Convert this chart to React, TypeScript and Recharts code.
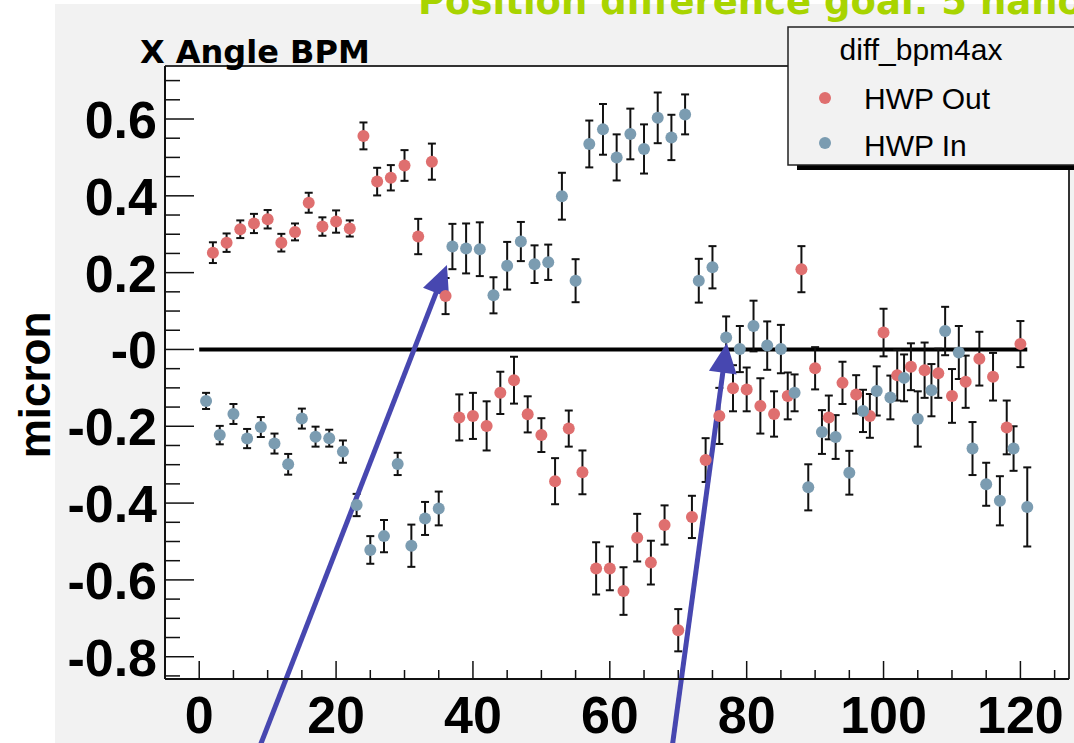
import React from 'react';
import { ScatterChart, Scatter, XAxis, YAxis, ErrorBar, ReferenceLine, CartesianGrid } from 'recharts';

// ---- data: HWP Out (red) ----
const outX = [2, 4, 6, 8, 10, 12, 14, 16, 18, 20, 22, 24, 26, 28, 30, 32, 34, 36, 38, 40, 42, 44, 46, 48, 50, 52, 54, 56, 58, 60, 62, 64, 66, 68, 70, 72, 74, 76, 78, 80, 82, 84, 86, 88, 90, 92, 94, 96, 98, 100, 102, 104, 106, 108, 110, 112, 114, 116, 118, 120];
const outY = [0.252, 0.278, 0.313, 0.328, 0.339, 0.278, 0.306, 0.382, 0.320, 0.333, 0.315, 0.556, 0.437, 0.447, 0.479, 0.294, 0.489, 0.139, -0.177, -0.173, -0.199, -0.113, -0.080, -0.169, -0.223, -0.343, -0.206, -0.320, -0.570, -0.570, -0.629, -0.490, -0.555, -0.457, -0.731, -0.436, -0.288, -0.173, -0.101, -0.104, -0.147, -0.168, -0.121, 0.209, -0.049, -0.177, -0.087, -0.117, -0.173, 0.044, -0.067, -0.045, -0.054, -0.062, -0.121, -0.084, -0.024, -0.071, -0.203, 0.014];
const outErr = [0.027, 0.024, 0.023, 0.025, 0.024, 0.023, 0.022, 0.026, 0.024, 0.029, 0.021, 0.035, 0.036, 0.033, 0.040, 0.046, 0.047, 0.047, 0.060, 0.060, 0.064, 0.055, 0.061, 0.047, 0.044, 0.060, 0.047, 0.057, 0.068, 0.057, 0.062, 0.062, 0.057, 0.051, 0.055, 0.055, 0.057, 0.073, 0.060, 0.057, 0.072, 0.059, 0.061, 0.060, 0.055, 0.057, 0.055, 0.050, 0.057, 0.062, 0.066, 0.061, 0.072, 0.064, 0.070, 0.068, 0.070, 0.062, 0.070, 0.060];

// ---- data: HWP In (blue) ----
const inX = [1, 3, 5, 7, 9, 11, 13, 15, 17, 19, 21, 23, 25, 27, 29, 31, 33, 35, 37, 39, 41, 43, 45, 47, 49, 51, 53, 55, 57, 59, 61, 63, 65, 67, 69, 71, 73, 75, 77, 79, 81, 83, 85, 87, 89, 91, 93, 95, 97, 99, 101, 103, 105, 107, 109, 111, 113, 115, 117, 119, 121];
const inY = [-0.134, -0.223, -0.168, -0.232, -0.202, -0.245, -0.299, -0.180, -0.227, -0.231, -0.266, -0.405, -0.522, -0.486, -0.298, -0.511, -0.440, -0.414, 0.268, 0.263, 0.261, 0.141, 0.218, 0.281, 0.222, 0.227, 0.399, 0.179, 0.535, 0.573, 0.500, 0.561, 0.522, 0.603, 0.552, 0.612, 0.179, 0.214, 0.031, 0.001, 0.061, 0.010, 0.001, -0.113, -0.359, -0.215, -0.228, -0.321, -0.160, -0.108, -0.125, -0.074, -0.181, -0.106, 0.048, -0.008, -0.258, -0.351, -0.394, -0.258, -0.410];
const inErr = [0.021, 0.024, 0.026, 0.025, 0.026, 0.026, 0.027, 0.026, 0.026, 0.022, 0.029, 0.029, 0.036, 0.042, 0.029, 0.055, 0.043, 0.044, 0.059, 0.065, 0.070, 0.047, 0.062, 0.051, 0.049, 0.046, 0.061, 0.056, 0.061, 0.066, 0.060, 0.066, 0.064, 0.066, 0.059, 0.052, 0.057, 0.055, 0.055, 0.060, 0.066, 0.063, 0.063, 0.048, 0.060, 0.057, 0.057, 0.057, 0.055, 0.064, 0.057, 0.061, 0.072, 0.068, 0.063, 0.069, 0.069, 0.056, 0.064, 0.058, 0.103];

// ---- axes ----
const xDomain = [-5, 127.1];
const yDomain = [-0.858, 0.738];
const xTicks = [-5, 0, 5, 10, 15, 20, 25, 30, 35, 40, 45, 50, 55, 60, 65, 70, 75, 80, 85, 90, 95, 100, 105, 110, 115, 120, 125];
const xMajor = [0, 20, 40, 60, 80, 100, 120];
const xTickLabels = ['0', '20', '40', '60', '80', '100', '120'];
const yTicks = [-0.85, -0.8, -0.75, -0.7, -0.65, -0.6, -0.55, -0.5, -0.45, -0.4, -0.35, -0.3, -0.25, -0.2, -0.15, -0.1, -0.05, 0, 0.05, 0.1, 0.15, 0.2, 0.25, 0.3, 0.35, 0.4, 0.45, 0.5, 0.55, 0.6, 0.65, 0.7];
const yMajor = [-0.8, -0.6, -0.4, -0.2, 0, 0.2, 0.4, 0.6];
const yTickLabels = ['-0.8', '-0.6', '-0.4', '-0.2', '-0', '0.2', '0.4', '0.6'];

// ---- annotations (data coordinates) ----
const arrows = [
  { tail: { x: 8.5, y: -1.05 }, tip: { x: 36.2, y: 0.22 } },
  { tail: { x: 69.0, y: -1.05 }, tip: { x: 77.1, y: 0.017 } },
];

const RED = '#df6f6f';
const BLUE = '#7b9cb1';
const ARROW = '#4747b0';
const LABEL_FONT = '"Liberation Sans", Arial, Helvetica, sans-serif';

const outData = outX.map((x, i) => ({ x, y: outY[i], err: outErr[i] }));
const inData = inX.map((x, i) => ({ x, y: inY[i], err: inErr[i] }));
const lineEnd = Math.max(...inX, ...outX);

const findIdx = (arr: number[], v: number) => arr.findIndex((m) => Math.abs(m - v) < 1e-6);

const XTick = (props: any) => {
  const { x, y, payload } = props;
  const idx = findIdx(xMajor, payload.value);
  const major = idx >= 0;
  return (
    <g>
      <line x1={x} x2={x} y1={y} y2={y - (major ? 18 : 9)} stroke="#111" strokeWidth={1.5} />
      {major && (
        <text x={x} y={y + 54} textAnchor="middle" fontFamily={LABEL_FONT} fontWeight="bold" fontSize={52} fill="#000">
          {xTickLabels[idx]}
        </text>
      )}
    </g>
  );
};

const YTick = (props: any) => {
  const { x, y, payload } = props;
  const idx = findIdx(yMajor, payload.value);
  const major = idx >= 0;
  return (
    <g>
      <line x1={x} x2={x + (major ? 29 : 15)} y1={y} y2={y} stroke="#111" strokeWidth={1.5} />
      {major && (
        <text x={x - 8} y={y + 19} textAnchor="end" fontFamily={LABEL_FONT} fontWeight="bold" fontSize={52} fill="#000">
          {yTickLabels[idx]}
        </text>
      )}
    </g>
  );
};

const dot = (color: string) => (props: any) => (
  <circle cx={props.cx} cy={props.cy} r={6} fill={color} />
);

const Arrow = (p: any) => {
  const { x1, y1, x2, y2 } = p;
  const dx = x2 - x1;
  const dy = y2 - y1;
  const L = Math.hypot(dx, dy) || 1;
  const ux = dx / L;
  const uy = dy / L;
  const hl = 30;
  const hw = 14;
  const bx = x2 - ux * hl;
  const by = y2 - uy * hl;
  const px = -uy;
  const py = ux;
  return (
    <g>
      <line x1={x1} y1={y1} x2={bx + ux * 4} y2={by + uy * 4} stroke={ARROW} strokeWidth={5} />
      <polygon
        points={`${x2},${y2} ${bx + px * hw},${by + py * hw} ${bx - px * hw},${by - py * hw}`}
        fill={ARROW}
      />
    </g>
  );
};

export default function App() {
  return (
    <div style={{ position: 'absolute', left: 0, top: 0, width: 1074, height: 743, background: '#fff', overflow: 'hidden' }}>
      <div style={{ position: 'absolute', left: 55, top: 4, width: 1019, height: 739, background: '#f2f2f2' }} />
      <div style={{ position: 'absolute', left: 0, top: 0 }}>
        <ScatterChart width={1074} height={743} margin={{ top: 66, right: 5, bottom: 0, left: 0 }}>
          <CartesianGrid fill="#ffffff" horizontal={false} vertical={false} />
          <XAxis
            type="number"
            dataKey="x"
            domain={xDomain}
            allowDataOverflow
            ticks={xTicks}
            interval={0}
            height={64}
            tickSize={0}
            tickMargin={0}
            tickLine={false}
            axisLine={{ stroke: '#111', strokeWidth: 2 }}
            tick={<XTick />}
          />
          <YAxis
            type="number"
            dataKey="y"
            domain={yDomain}
            allowDataOverflow
            ticks={yTicks}
            interval={0}
            width={165}
            tickSize={0}
            tickMargin={0}
            tickLine={false}
            axisLine={{ stroke: '#111', strokeWidth: 2 }}
            tick={<YTick />}
          />
          <ReferenceLine y={yDomain[1]} stroke="#333" strokeWidth={2} />
          <ReferenceLine x={xDomain[1]} stroke="#333" strokeWidth={2} />
          <ReferenceLine
            segment={[{ x: 0, y: 0 }, { x: lineEnd, y: 0 }]}
            stroke="#000"
            strokeWidth={4}
          />
          <Scatter data={outData} shape={dot(RED)} isAnimationActive={false}>
            <ErrorBar dataKey="err" direction="y" width={4} stroke="#111" strokeWidth={2} isAnimationActive={false} />
          </Scatter>
          <Scatter data={inData} shape={dot(BLUE)} isAnimationActive={false}>
            <ErrorBar dataKey="err" direction="y" width={4} stroke="#111" strokeWidth={2} isAnimationActive={false} />
          </Scatter>
          {arrows.map((a, i) => (
            <ReferenceLine key={i} segment={[a.tail, a.tip]} ifOverflow="visible" shape={Arrow} />
          ))}
        </ScatterChart>
      </div>
      <svg width={1074} height={743} style={{ position: 'absolute', left: 0, top: 0, pointerEvents: 'none' }}>
        <text x={418} y={14} fontFamily='"DejaVu Sans", sans-serif' fontWeight="bold" fontSize={37} fill="#a8d400">
          Position difference goal: 5 nanometers
        </text>
        <text x={140} y={63} fontFamily='"DejaVu Sans", sans-serif' fontWeight="bold" fontSize={32} fill="#000">
          X Angle BPM
        </text>
        <text
          transform="translate(50,385) rotate(-90)"
          textAnchor="middle"
          fontFamily={LABEL_FONT}
          fontWeight="bold"
          fontSize={44}
          fill="#000"
        >
          micron
        </text>
        <rect x={797} y={32} width={300} height={138} fill="#000" />
        <rect x={788} y={27} width={300} height={138} fill="#f2f2f2" stroke="#222" strokeWidth={1.5} />
        <text x={921} y={60} textAnchor="middle" fontFamily={LABEL_FONT} fontSize={30} fill="#000">
          diff_bpm4ax
        </text>
        <circle cx={825} cy={98} r={6} fill={RED} />
        <text x={864} y={109} fontFamily={LABEL_FONT} fontSize={30} fill="#000">
          HWP Out
        </text>
        <circle cx={825} cy={143} r={6} fill={BLUE} />
        <text x={864} y={156} fontFamily={LABEL_FONT} fontSize={30} fill="#000">
          HWP In
        </text>
      </svg>
    </div>
  );
}
